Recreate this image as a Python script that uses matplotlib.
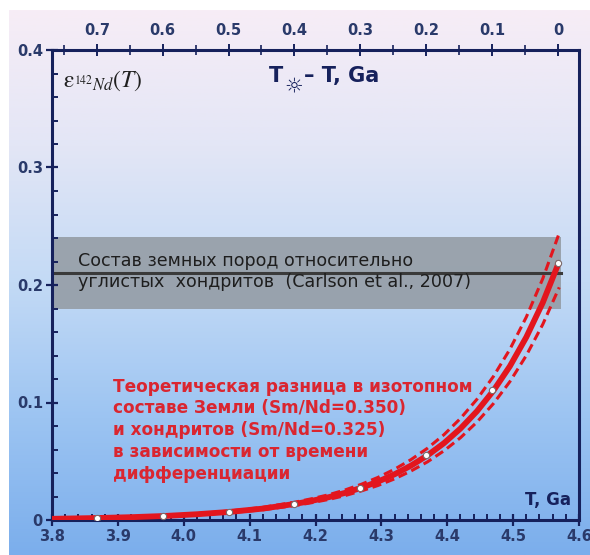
import numpy as np
import matplotlib
matplotlib.use("Agg")
import matplotlib.pyplot as plt
from matplotlib.colors import LinearSegmentedColormap
from matplotlib.ticker import MultipleLocator, FuncFormatter

NAVY, RED, GREY = "#16215C", "#E3161E", "#3A3A3A"
plt.rcParams.update({"font.family": "DejaVu Sans", "mathtext.fontset": "stix"})

# age of solar system, Ga (top axis = T_sun - T)
T_SUN = 4.568

# central curve, epsilon 142Nd vs differentiation time T (Ga)
T_CURVE = [3.80, 3.82, 3.87, 3.92, 3.97, 4.02, 4.07, 4.12, 4.17, 4.195,
           4.22, 4.245, 4.27, 4.295, 4.32, 4.345, 4.37, 4.395, 4.42, 4.445,
           4.47, 4.495, 4.52, 4.545, 4.57]
EPS_MID = [0.0010, 0.0012, 0.0017, 0.0024, 0.0034, 0.0049, 0.0069, 0.0097, 0.0138, 0.0164,
           0.0194, 0.0231, 0.0275, 0.0327, 0.0389, 0.0463, 0.0550, 0.0654, 0.0778, 0.0925,
           0.1100, 0.1308, 0.1556, 0.1850, 0.2200]
EPS_HI = [0.0011, 0.0013, 0.0019, 0.0027, 0.0038, 0.0054, 0.0077, 0.0108, 0.0153, 0.0182,
          0.0215, 0.0256, 0.0305, 0.0363, 0.0432, 0.0514, 0.0611, 0.0726, 0.0864, 0.1027,
          0.1221, 0.1452, 0.1727, 0.2054, 0.2442]
EPS_LO = [0.0009, 0.0011, 0.0015, 0.0022, 0.0031, 0.0044, 0.0062, 0.0087, 0.0124, 0.0148,
          0.0175, 0.0208, 0.0248, 0.0294, 0.0350, 0.0417, 0.0495, 0.0589, 0.0700, 0.0833,
          0.0990, 0.1177, 0.1400, 0.1665, 0.1980]

# marked points every 0.1 Ga
T_DOTS = [3.868, 3.968, 4.068, 4.168, 4.268, 4.368, 4.468, 4.568]
EPS_DOTS = [0.0017, 0.0034, 0.0069, 0.0138, 0.0276, 0.0553, 0.1105, 0.2190]

# Carlson et al. 2007 terrestrial rocks vs carbonaceous chondrites
CARLSON_MEAN, CARLSON_LO, CARLSON_HI = 0.210, 0.180, 0.241
CARLSON_T = [3.80, 4.573]

fig = plt.figure(figsize=(5.90, 5.55), dpi=100)

# gradient background
bg = fig.add_axes([9 / 590, 0, 1 - 9 / 590, 545 / 555], zorder=0)
cmap = LinearSegmentedColormap.from_list(
    "bg", ["#F7EDF6", "#E3E6F6", "#C3DAF5", "#9CC4F2", "#7BAEEC"])
bg.imshow(np.linspace(0, 1, 256).reshape(-1, 1), aspect="auto", cmap=cmap,
          extent=[0, 1, 0, 1])
bg.axis("off")

ax = fig.add_axes([52 / 590, 35 / 555, 527 / 590, 470 / 555], zorder=1)
ax.set_facecolor("none")
ax.set_xlim(3.8, 4.6)
ax.set_ylim(0, 0.4)

ax.fill_between(CARLSON_T, CARLSON_LO, CARLSON_HI, color="#9299A1", alpha=0.85,
                lw=0, zorder=1)
ax.plot(CARLSON_T, [CARLSON_MEAN] * 2, color=GREY, lw=2.2, zorder=2)
ax.text(3.84, 0.2115, "Состав земных пород относительно\nуглистых  хондритов  (Carlson et al., 2007)",
        fontsize=12.6, color="#1E1E1E", va="center", linespacing=1.25, zorder=3)

ax.plot(T_CURVE, EPS_HI, color=RED, lw=2.2, ls=(0, (3.0, 1.6)), zorder=4)
ax.plot(T_CURVE, EPS_LO, color=RED, lw=2.2, ls=(0, (3.0, 1.6)), zorder=4)
ax.plot(T_CURVE, EPS_MID, color=RED, lw=4.2, zorder=5, solid_capstyle="butt")
ax.plot(T_DOTS, EPS_DOTS, "o", ms=4.5, mfc="white", mec="#7A6A6A", mew=0.8, zorder=6)

ax.text(3.893, 0.0765,
        "Теоретическая разница в изотопном\nсоставе Земли (Sm/Nd=0.350)\n"
        "и хондритов (Sm/Nd=0.325)\nв зависимости от времени\nдифференциации",
        fontsize=12.2, color="#DA2630", fontweight="bold", va="center", linespacing=1.27,
        zorder=7)

ax.text(0.02, 0.935, r"$\mathrm{\varepsilon}_{^{142}Nd}(T)$", transform=ax.transAxes,
        fontsize=17, color="#202020", va="center", ha="left")
ax.text(0.412, 0.945, "T", transform=ax.transAxes, fontsize=15, fontweight="bold",
        color=NAVY, va="center")
ax.text(0.440, 0.922, "☼", transform=ax.transAxes, fontsize=15, color=NAVY, va="center")
ax.text(0.478, 0.945, "– T, Ga", transform=ax.transAxes, fontsize=15, fontweight="bold",
        color=NAVY, va="center")
ax.text(0.985, 0.043, "T, Ga", transform=ax.transAxes, fontsize=12, fontweight="bold",
        color=NAVY, ha="right", va="center")

for side in ax.spines.values():
    side.set_color(NAVY)
    side.set_linewidth(2.2)

ax.xaxis.set_major_locator(MultipleLocator(0.1))
ax.xaxis.set_minor_locator(MultipleLocator(0.02))
ax.yaxis.set_major_locator(MultipleLocator(0.1))
ax.yaxis.set_minor_locator(MultipleLocator(0.02))
ax.xaxis.set_major_formatter(FuncFormatter(lambda v, p: f"{v:.1f}"))
ax.yaxis.set_major_formatter(FuncFormatter(lambda v, p: "0" if abs(v) < 1e-9 else f"{v:.1f}"))
ax.tick_params(which="major", direction="inout", length=9, width=1.6, color=NAVY,
               labelsize=10.5, labelcolor="#2A3A6A", pad=2)
ax.tick_params(which="minor", direction="in", length=4, width=1.4, color=NAVY)
ax.tick_params(axis="y", which="both", right=False)
for lab in ax.get_xticklabels() + ax.get_yticklabels():
    lab.set_fontweight("bold")

top = ax.secondary_xaxis("top", functions=(lambda t: T_SUN - t, lambda a: T_SUN - a))
top.xaxis.set_major_locator(MultipleLocator(0.1))
top.xaxis.set_minor_locator(MultipleLocator(0.05))
top.xaxis.set_major_formatter(FuncFormatter(lambda v, p: "0" if abs(v) < 1e-9 else f"{v:.1f}"))
top.tick_params(which="major", direction="inout", length=9, width=1.4, color=NAVY,
                labelsize=10.5, labelcolor="#2A3A6A", pad=4)
top.tick_params(which="minor", direction="inout", length=7, width=1.2, color=NAVY)
top.spines["top"].set_visible(False)
for lab in top.get_xticklabels():
    lab.set_fontweight("bold")

fig.savefig("out.png", dpi=100)
